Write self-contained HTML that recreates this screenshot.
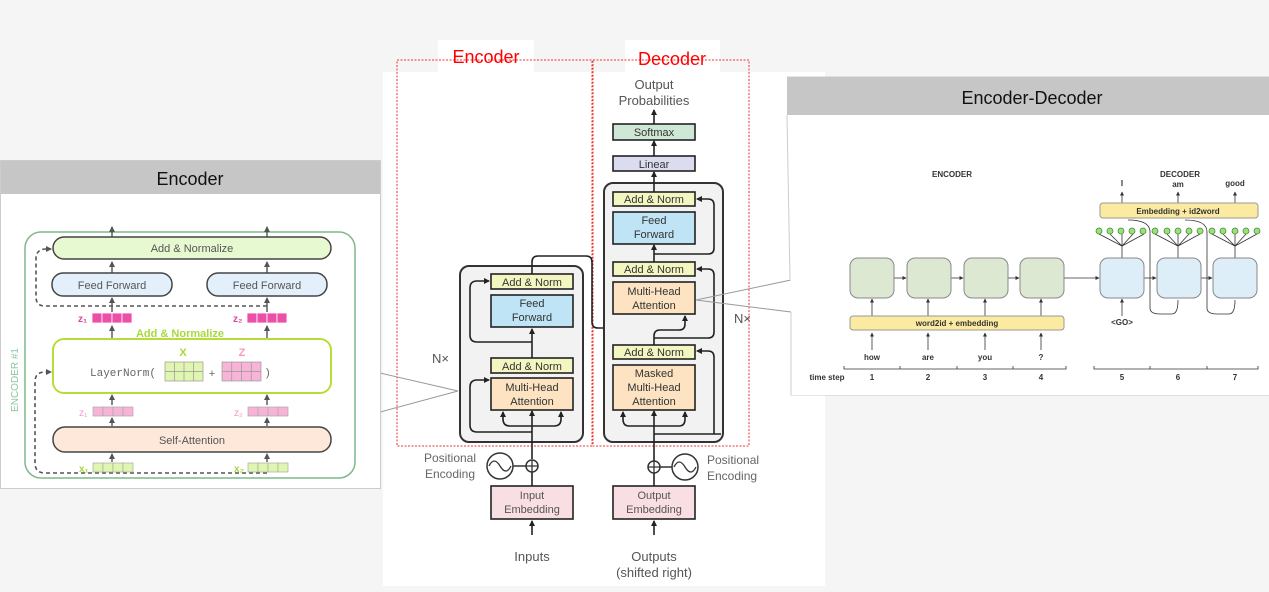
<!DOCTYPE html>
<html><head><meta charset="utf-8"><style>
html,body{margin:0;padding:0;background:#f5f5f5;}
svg{display:block;font-family:"Liberation Sans",sans-serif;}
</style></head><body>
<svg width="1269" height="592" viewBox="0 0 1269 592" xmlns="http://www.w3.org/2000/svg">
<defs>
<marker id="ah" markerWidth="6" markerHeight="6" refX="5" refY="3" orient="auto" markerUnits="userSpaceOnUse"><path d="M0,0 L6,3 L0,6 z" fill="#222"/></marker>
<marker id="ag" markerWidth="6" markerHeight="6" refX="5" refY="3" orient="auto" markerUnits="userSpaceOnUse"><path d="M0,0 L6,3 L0,6 z" fill="#555"/></marker>
<marker id="as" markerWidth="4" markerHeight="4" refX="3.5" refY="2" orient="auto" markerUnits="userSpaceOnUse"><path d="M0,0 L4,2 L0,4 z" fill="#333"/></marker>
</defs>
<rect width="1269" height="592" fill="#f5f5f5"/>

<!-- ============ MIDDLE PANEL ============ -->
<rect x="383" y="72" width="442" height="514" fill="#fff"/>
<rect x="438" y="40" width="96" height="33" fill="#fff"/>
<rect x="625" y="40" width="95" height="33" fill="#fff"/>
<rect x="397" y="60" width="195" height="386" fill="none" stroke="#e33" stroke-width="1" stroke-dasharray="2,1.5"/>
<rect x="593" y="60" width="156" height="386" fill="none" stroke="#e33" stroke-width="1" stroke-dasharray="2,1.5"/>
<text x="486" y="63" font-size="18" fill="#f00" text-anchor="middle">Encoder</text>
<text x="672" y="65" font-size="18" fill="#f00" text-anchor="middle">Decoder</text>

<!-- encoder stack -->
<rect x="460" y="266" width="123" height="176" rx="9" fill="#f2f2f2" stroke="#333" stroke-width="2"/>
<g stroke="#222" stroke-width="1.6" fill="none">
<line x1="532" y1="535" x2="532" y2="521" marker-end="url(#ah)"/>
<line x1="532" y1="486" x2="532" y2="472"/>
<line x1="532" y1="459" x2="532" y2="411" marker-end="url(#ah)"/>
<path d="M532,432 L477,432 Q470,432 470,425 L470,387 Q470,380 477,380 L489,380" marker-end="url(#ah)"/>
<path d="M532,426 L510,426 Q503,426 503,419 L503,412" marker-end="url(#ah)"/>
<path d="M532,426 L554,426 Q561,426 561,419 L561,412" marker-end="url(#ah)"/>
<line x1="532" y1="358" x2="532" y2="329" marker-end="url(#ah)"/>
<path d="M532,342 L477,342 Q470,342 470,335 L470,288 Q470,281 477,281 L489,281" marker-end="url(#ah)"/>
<path d="M532,274 L532,262 Q532,256 538,256 L586,256 Q592,256 592,262 L592,322 Q592,328 598,328 L648,328 Q652,328 652,322 L652,316" marker-end="url(#ah)"/>
<path d="M617,328 Q623,328 623,322 L623,316" marker-end="url(#ah)"/>
</g>
<rect x="491" y="274" width="82" height="15" fill="#f3f6c1" stroke="#222" stroke-width="1.6"/>
<text x="532" y="286" font-size="11" text-anchor="middle" fill="#333">Add &amp; Norm</text>
<rect x="491" y="295" width="82" height="32" fill="#bfe4f5" stroke="#222" stroke-width="1.6"/>
<text x="532" y="307" font-size="11" text-anchor="middle" fill="#333">Feed</text>
<text x="532" y="321" font-size="11" text-anchor="middle" fill="#333">Forward</text>
<rect x="491" y="358" width="82" height="15" fill="#f3f6c1" stroke="#222" stroke-width="1.6"/>
<text x="532" y="370" font-size="11" text-anchor="middle" fill="#333">Add &amp; Norm</text>
<rect x="491" y="378" width="82" height="32" fill="#fde3c1" stroke="#222" stroke-width="1.6"/>
<text x="532" y="391" font-size="11" text-anchor="middle" fill="#333">Multi-Head</text>
<text x="532" y="405" font-size="11" text-anchor="middle" fill="#333">Attention</text>
<text x="432" y="363" font-size="13" fill="#555">N×</text>
<text x="450" y="462" font-size="12" text-anchor="middle" fill="#666">Positional</text>
<text x="450" y="478" font-size="12" text-anchor="middle" fill="#666">Encoding</text>
<circle cx="500" cy="466" r="13" fill="#fff" stroke="#333" stroke-width="1.5"/>
<path d="M489,466 Q494,456 500,466 Q506,476 511,466" fill="none" stroke="#333" stroke-width="1.3"/>
<line x1="513" y1="466" x2="526" y2="466" stroke="#333" stroke-width="1.5"/>
<circle cx="532" cy="466" r="6" fill="#fff" stroke="#333" stroke-width="1.5"/>
<path d="M526,466 h12 M532,460 v12" stroke="#333" stroke-width="1.3"/>
<rect x="491" y="486" width="82" height="33" fill="#f9dfe3" stroke="#222" stroke-width="1.6"/>
<text x="532" y="499" font-size="11" text-anchor="middle" fill="#555">Input</text>
<text x="532" y="513" font-size="11" text-anchor="middle" fill="#555">Embedding</text>
<text x="532" y="561" font-size="13" text-anchor="middle" fill="#555">Inputs</text>

<!-- decoder stack -->
<rect x="604" y="183" width="119" height="259" rx="9" fill="#f2f2f2" stroke="#333" stroke-width="2"/>
<g stroke="#222" stroke-width="1.6" fill="none">
<line x1="654" y1="535" x2="654" y2="521" marker-end="url(#ah)"/>
<line x1="654" y1="486" x2="654" y2="473"/>
<line x1="654" y1="461" x2="654" y2="411" marker-end="url(#ah)"/>
<path d="M654,434 L721,434 M714,434 Q714,434 714,427 L714,357 Q714,351 708,351 L697,351" marker-end="url(#ah)"/>
<path d="M654,426 L629,426 Q623,426 623,419 L623,412" marker-end="url(#ah)"/>
<path d="M654,426 L679,426 Q685,426 685,419 L685,412" marker-end="url(#ah)"/>
<path d="M654,345 L654,336 Q654,330 660,330 L679,330 Q685,330 685,324 L685,316" marker-end="url(#ah)"/>
<path d="M654,338 L708,338 Q714,338 714,332 L714,275 Q714,269 708,269 L697,269" marker-end="url(#ah)"/>
<line x1="654" y1="262" x2="654" y2="245" marker-end="url(#ah)"/>
<path d="M654,254 L708,254 Q714,254 714,248 L714,205 Q714,199 708,199 L697,199" marker-end="url(#ah)"/>
<line x1="654" y1="192" x2="654" y2="172" marker-end="url(#ah)"/>
<line x1="654" y1="156" x2="654" y2="141" marker-end="url(#ah)"/>
<line x1="654" y1="124" x2="654" y2="110" marker-end="url(#ah)"/>
</g>
<text x="654" y="89" font-size="13" text-anchor="middle" fill="#555">Output</text>
<text x="654" y="105" font-size="13" text-anchor="middle" fill="#555">Probabilities</text>
<rect x="613" y="124" width="82" height="16" fill="#cfe8d5" stroke="#222" stroke-width="1.6"/>
<text x="654" y="136" font-size="11" text-anchor="middle" fill="#333">Softmax</text>
<rect x="613" y="156" width="82" height="15" fill="#dcdcf0" stroke="#222" stroke-width="1.6"/>
<text x="654" y="168" font-size="11" text-anchor="middle" fill="#333">Linear</text>
<rect x="613" y="192" width="82" height="14" fill="#f3f6c1" stroke="#222" stroke-width="1.6"/>
<text x="654" y="203" font-size="11" text-anchor="middle" fill="#333">Add &amp; Norm</text>
<rect x="613" y="212" width="82" height="32" fill="#bfe4f5" stroke="#222" stroke-width="1.6"/>
<text x="654" y="224" font-size="11" text-anchor="middle" fill="#333">Feed</text>
<text x="654" y="238" font-size="11" text-anchor="middle" fill="#333">Forward</text>
<rect x="613" y="262" width="82" height="14" fill="#f3f6c1" stroke="#222" stroke-width="1.6"/>
<text x="654" y="273" font-size="11" text-anchor="middle" fill="#333">Add &amp; Norm</text>
<rect x="613" y="282" width="82" height="32" fill="#fde3c1" stroke="#222" stroke-width="1.6"/>
<text x="654" y="295" font-size="11" text-anchor="middle" fill="#333">Multi-Head</text>
<text x="654" y="309" font-size="11" text-anchor="middle" fill="#333">Attention</text>
<rect x="613" y="345" width="82" height="14" fill="#f3f6c1" stroke="#222" stroke-width="1.6"/>
<text x="654" y="356" font-size="11" text-anchor="middle" fill="#333">Add &amp; Norm</text>
<rect x="613" y="365" width="82" height="45" fill="#fde3c1" stroke="#222" stroke-width="1.6"/>
<text x="654" y="377" font-size="11" text-anchor="middle" fill="#333">Masked</text>
<text x="654" y="391" font-size="11" text-anchor="middle" fill="#333">Multi-Head</text>
<text x="654" y="405" font-size="11" text-anchor="middle" fill="#333">Attention</text>
<text x="734" y="323" font-size="13" fill="#555">N×</text>
<circle cx="654" cy="467" r="6" fill="#fff" stroke="#333" stroke-width="1.5"/>
<path d="M648,467 h12 M654,461 v12" stroke="#333" stroke-width="1.3"/>
<line x1="660" y1="467" x2="672" y2="467" stroke="#333" stroke-width="1.5"/>
<circle cx="685" cy="467" r="13" fill="#fff" stroke="#333" stroke-width="1.5"/>
<path d="M674,467 Q679,457 685,467 Q691,477 696,467" fill="none" stroke="#333" stroke-width="1.3"/>
<text x="707" y="464" font-size="12" fill="#666">Positional</text>
<text x="707" y="480" font-size="12" fill="#666">Encoding</text>
<rect x="613" y="486" width="82" height="33" fill="#f9dfe3" stroke="#222" stroke-width="1.6"/>
<text x="654" y="499" font-size="11" text-anchor="middle" fill="#555">Output</text>
<text x="654" y="513" font-size="11" text-anchor="middle" fill="#555">Embedding</text>
<text x="654" y="561" font-size="13" text-anchor="middle" fill="#555">Outputs</text>
<text x="654" y="577" font-size="13" text-anchor="middle" fill="#555">(shifted right)</text>

<!-- callout lines -->
<g stroke="#999" stroke-width="1" fill="none">
<path d="M380,373 L458,391 L380,412"/>
<path d="M791,280 L696,300 L791,312"/>
</g>

<!-- ============ LEFT PANEL ============ -->
<rect x="0.5" y="160.5" width="380" height="328" fill="#fff" stroke="#ccc"/>
<rect x="1" y="161" width="379" height="33" fill="#c6c6c6"/>
<text x="190" y="185" font-size="18" text-anchor="middle" fill="#111">Encoder</text>
<rect x="25" y="232" width="330" height="246" rx="16" fill="none" stroke="#7fb88c" stroke-width="1.5"/>
<text transform="translate(18,380) rotate(-90)" font-size="10" fill="#8cc59a" text-anchor="middle">ENCODER #1</text>
<g stroke="#444" stroke-width="1.3" fill="none">
<line x1="112" y1="237" x2="112" y2="227" marker-end="url(#ag)"/>
<line x1="267" y1="237" x2="267" y2="227" marker-end="url(#ag)"/>
<line x1="112" y1="273" x2="112" y2="262" marker-end="url(#ag)"/>
<line x1="267" y1="273" x2="267" y2="262" marker-end="url(#ag)"/>
<line x1="112" y1="312" x2="112" y2="298" marker-end="url(#ag)"/>
<line x1="267" y1="312" x2="267" y2="298" marker-end="url(#ag)"/>
<line x1="112" y1="338" x2="112" y2="326" marker-end="url(#ag)"/>
<line x1="267" y1="338" x2="267" y2="326" marker-end="url(#ag)"/>
<line x1="112" y1="405" x2="112" y2="395" marker-end="url(#ag)"/>
<line x1="267" y1="405" x2="267" y2="395" marker-end="url(#ag)"/>
<line x1="112" y1="426" x2="112" y2="418" marker-end="url(#ag)"/>
<line x1="267" y1="426" x2="267" y2="418" marker-end="url(#ag)"/>
<line x1="112" y1="462" x2="112" y2="454" marker-end="url(#ag)"/>
<line x1="267" y1="462" x2="267" y2="454" marker-end="url(#ag)"/>
</g>
<g stroke="#555" stroke-width="1.6" fill="none" stroke-dasharray="4,3">
<path d="M267,306 L45,306 Q36,306 36,297 L36,259 Q36,249 46,249 L51,249" marker-end="url(#ag)"/>
<path d="M267,473 L45,473 Q35,473 35,463 L35,382 Q35,372 45,372 L51,372" marker-end="url(#ag)"/>
</g>
<rect x="53" y="237" width="278" height="22" rx="11" fill="#e6f9d0" stroke="#444" stroke-width="1.5"/>
<text x="192" y="252" font-size="11" text-anchor="middle" fill="#555">Add &amp; Normalize</text>
<rect x="52" y="273" width="120" height="23" rx="11" fill="#e3f0fb" stroke="#444" stroke-width="1.5"/>
<text x="112" y="289" font-size="11" text-anchor="middle" fill="#555">Feed Forward</text>
<rect x="207" y="273" width="120" height="23" rx="11" fill="#e3f0fb" stroke="#444" stroke-width="1.5"/>
<text x="267" y="289" font-size="11" text-anchor="middle" fill="#555">Feed Forward</text>
<!-- z dark -->
<g fill="#ec4fa7" stroke="#fff" stroke-width="0.8">
<rect x="92" y="313" width="10" height="10"/><rect x="102" y="313" width="10" height="10"/><rect x="112" y="313" width="10" height="10"/><rect x="122" y="313" width="10" height="10"/>
<rect x="247" y="313" width="10" height="10"/><rect x="257" y="313" width="10" height="10"/><rect x="267" y="313" width="10" height="10"/><rect x="277" y="313" width="10" height="10"/>
</g>
<text x="78" y="322" font-size="10" fill="#e0459c" font-weight="bold">z₁</text>
<text x="233" y="322" font-size="10" fill="#e0459c" font-weight="bold">z₂</text>
<text x="180" y="337" font-size="11" text-anchor="middle" fill="#a8d83a" font-weight="bold">Add &amp; Normalize</text>
<rect x="53" y="339" width="278" height="54" rx="11" fill="#fff" stroke="#b5dd3a" stroke-width="2"/>
<text x="90" y="376" font-size="11" fill="#666" font-family="Liberation Mono, monospace">LayerNorm(</text>
<text x="183" y="356" font-size="11" fill="#a8d83a" text-anchor="middle" font-weight="bold">X</text>
<text x="242" y="356" font-size="11" fill="#f49ac9" text-anchor="middle" font-weight="bold">Z</text>
<g stroke="#999" stroke-width="0.7">
<rect x="165" y="362" width="38" height="19" fill="#dff5b0"/>
<path d="M174.5,362v19M184,362v19M193.5,362v19M165,371.5h38" fill="none"/>
<rect x="222" y="362" width="39" height="19" fill="#f7b4d6"/>
<path d="M231.75,362v19M241.5,362v19M251.25,362v19M222,371.5h39" fill="none"/>
</g>
<text x="212" y="377" font-size="11" fill="#666" text-anchor="middle">+</text>
<text x="266" y="376" font-size="11" fill="#666">)</text>
<g fill="#f7b4d6" stroke="#aaa" stroke-width="0.7">
<rect x="93" y="407" width="10" height="9"/><rect x="103" y="407" width="10" height="9"/><rect x="113" y="407" width="10" height="9"/><rect x="123" y="407" width="10" height="9"/>
<rect x="248" y="407" width="10" height="9"/><rect x="258" y="407" width="10" height="9"/><rect x="268" y="407" width="10" height="9"/><rect x="278" y="407" width="10" height="9"/>
</g>
<text x="79" y="416" font-size="10" fill="#f49ac9">z₁</text>
<text x="234" y="416" font-size="10" fill="#f49ac9">z₂</text>
<rect x="53" y="427" width="278" height="25" rx="12" fill="#fde8d9" stroke="#444" stroke-width="1.5"/>
<text x="192" y="444" font-size="11" text-anchor="middle" fill="#555">Self-Attention</text>
<g fill="#dff5b0" stroke="#aaa" stroke-width="0.7">
<rect x="93" y="463" width="10" height="9"/><rect x="103" y="463" width="10" height="9"/><rect x="113" y="463" width="10" height="9"/><rect x="123" y="463" width="10" height="9"/>
<rect x="248" y="463" width="10" height="9"/><rect x="258" y="463" width="10" height="9"/><rect x="268" y="463" width="10" height="9"/><rect x="278" y="463" width="10" height="9"/>
</g>
<text x="79" y="472" font-size="10" fill="#a8d83a" font-weight="bold">x₁</text>
<text x="234" y="472" font-size="10" fill="#a8d83a" font-weight="bold">x₂</text>

<!-- ============ RIGHT PANEL ============ -->
<path d="M787,77 L1269,77 L1269,395 L791,395 L791,312 M791,280 L789,115" fill="#fff" stroke="#ccc"/>
<rect x="791" y="115" width="478" height="280" fill="#fff"/>
<polygon points="787,115 791,115 791,280 789,280" fill="#fff"/>
<line x1="787" y1="115" x2="790" y2="280" stroke="#ccc"/>
<line x1="791" y1="312" x2="791" y2="395" stroke="#ccc"/>
<rect x="787" y="77" width="482" height="38" fill="#c6c6c6"/>
<text x="1032" y="104" font-size="18" text-anchor="middle" fill="#111">Encoder-Decoder</text>
<g font-size="8" font-weight="bold" fill="#333" text-anchor="middle" font-family="Liberation Sans Narrow, Liberation Sans, sans-serif">
<text x="952" y="177">ENCODER</text>
<text x="1180" y="177">DECODER</text>
<text x="1122" y="186">I</text>
<text x="1178" y="187">am</text>
<text x="1235" y="186">good</text>
<text x="957" y="327">word2id + embedding</text>
<text x="1178" y="213">Embedding + id2word</text>
<text x="1122" y="325">&lt;GO&gt;</text>
<text x="872" y="360">how</text><text x="928" y="360">are</text><text x="985" y="360">you</text><text x="1041" y="360">?</text>
<text x="827" y="380">time step</text>
<text x="872" y="380">1</text><text x="928" y="380">2</text><text x="985" y="380">3</text><text x="1041" y="380">4</text>
<text x="1122" y="380">5</text><text x="1178" y="380">6</text><text x="1235" y="380">7</text>
</g>
<g stroke="#333" stroke-width="0.8" fill="none">
<path d="M844,366 v3 h222 v-3 M900,366v3M957,366v3M1013,366v3"/>
<path d="M1094,366 v3 h164 v-3 M1150,366v3M1207,366v3"/>
<line x1="872" y1="350" x2="872" y2="333" marker-end="url(#as)"/>
<line x1="928" y1="350" x2="928" y2="333" marker-end="url(#as)"/>
<line x1="985" y1="350" x2="985" y2="333" marker-end="url(#as)"/>
<line x1="1041" y1="350" x2="1041" y2="333" marker-end="url(#as)"/>
<line x1="872" y1="316" x2="872" y2="299" marker-end="url(#as)"/>
<line x1="928" y1="316" x2="928" y2="299" marker-end="url(#as)"/>
<line x1="985" y1="316" x2="985" y2="299" marker-end="url(#as)"/>
<line x1="1041" y1="316" x2="1041" y2="299" marker-end="url(#as)"/>
<line x1="894" y1="278" x2="906" y2="278" marker-end="url(#as)"/>
<line x1="951" y1="278" x2="963" y2="278" marker-end="url(#as)"/>
<line x1="1008" y1="278" x2="1019" y2="278" marker-end="url(#as)"/>
<line x1="1064" y1="278" x2="1099" y2="278" marker-end="url(#as)"/>
<line x1="1144" y1="278" x2="1156" y2="278" marker-end="url(#as)"/>
<line x1="1201" y1="278" x2="1212" y2="278" marker-end="url(#as)"/>
<line x1="1122" y1="316" x2="1122" y2="299" marker-end="url(#as)"/>
<line x1="1122" y1="258" x2="1122" y2="246"/>
<line x1="1178" y1="258" x2="1178" y2="246"/>
<line x1="1235" y1="258" x2="1235" y2="246"/>
<line x1="1122" y1="203" x2="1122" y2="192" marker-end="url(#as)"/>
<line x1="1178" y1="203" x2="1178" y2="192" marker-end="url(#as)"/>
<line x1="1235" y1="203" x2="1235" y2="192" marker-end="url(#as)"/>
<path d="M1128,220 Q1150,220 1150,232 L1150,308 Q1150,314 1160,314 L1172,314 Q1178,314 1178,300"/>
<path d="M1185,220 Q1207,220 1207,232 L1207,308 Q1207,314 1217,314 L1229,314 Q1235,314 1235,300"/>
<path d="M1099,234 L1122,246 L1144,234 M1110,234 L1122,246 L1133,234 M1122,234 L1122,246"/>
<path d="M1155,234 L1178,246 L1200,234 M1167,234 L1178,246 L1189,234 M1178,234 L1178,246"/>
<path d="M1212,234 L1235,246 L1257,234 M1223,234 L1235,246 L1246,234 M1235,234 L1235,246"/>
</g>
<g fill="#dde8d3" stroke="#888" stroke-width="1">
<rect x="850" y="258" width="44" height="40" rx="8"/><rect x="907" y="258" width="44" height="40" rx="8"/>
<rect x="964" y="258" width="44" height="40" rx="8"/><rect x="1020" y="258" width="44" height="40" rx="8"/>
</g>
<g fill="#deeef8" stroke="#888" stroke-width="1">
<rect x="1100" y="258" width="44" height="40" rx="8"/><rect x="1157" y="258" width="44" height="40" rx="8"/>
<rect x="1213" y="258" width="44" height="40" rx="8"/>
</g>
<rect x="850" y="316" width="214" height="14" rx="3" fill="#fbeaa0" stroke="#999"/>
<text x="957" y="326" font-size="8" font-weight="bold" text-anchor="middle" fill="#333">word2id + embedding</text>
<rect x="1100" y="203" width="158" height="15" rx="3" fill="#fbeaa0" stroke="#999"/>
<text x="1178" y="214" font-size="8" font-weight="bold" text-anchor="middle" fill="#333">Embedding + id2word</text>
<g fill="#9be07a" stroke="#4a8a3a" stroke-width="0.8">
<circle cx="1099" cy="231" r="3"/><circle cx="1110" cy="231" r="3"/><circle cx="1121" cy="231" r="3"/><circle cx="1132" cy="231" r="3"/><circle cx="1143" cy="231" r="3"/>
<circle cx="1155" cy="231" r="3"/><circle cx="1167" cy="231" r="3"/><circle cx="1178" cy="231" r="3"/><circle cx="1189" cy="231" r="3"/><circle cx="1200" cy="231" r="3"/>
<circle cx="1212" cy="231" r="3"/><circle cx="1223" cy="231" r="3"/><circle cx="1235" cy="231" r="3"/><circle cx="1246" cy="231" r="3"/><circle cx="1257" cy="231" r="3"/>
</g>
</svg>
</body></html>
